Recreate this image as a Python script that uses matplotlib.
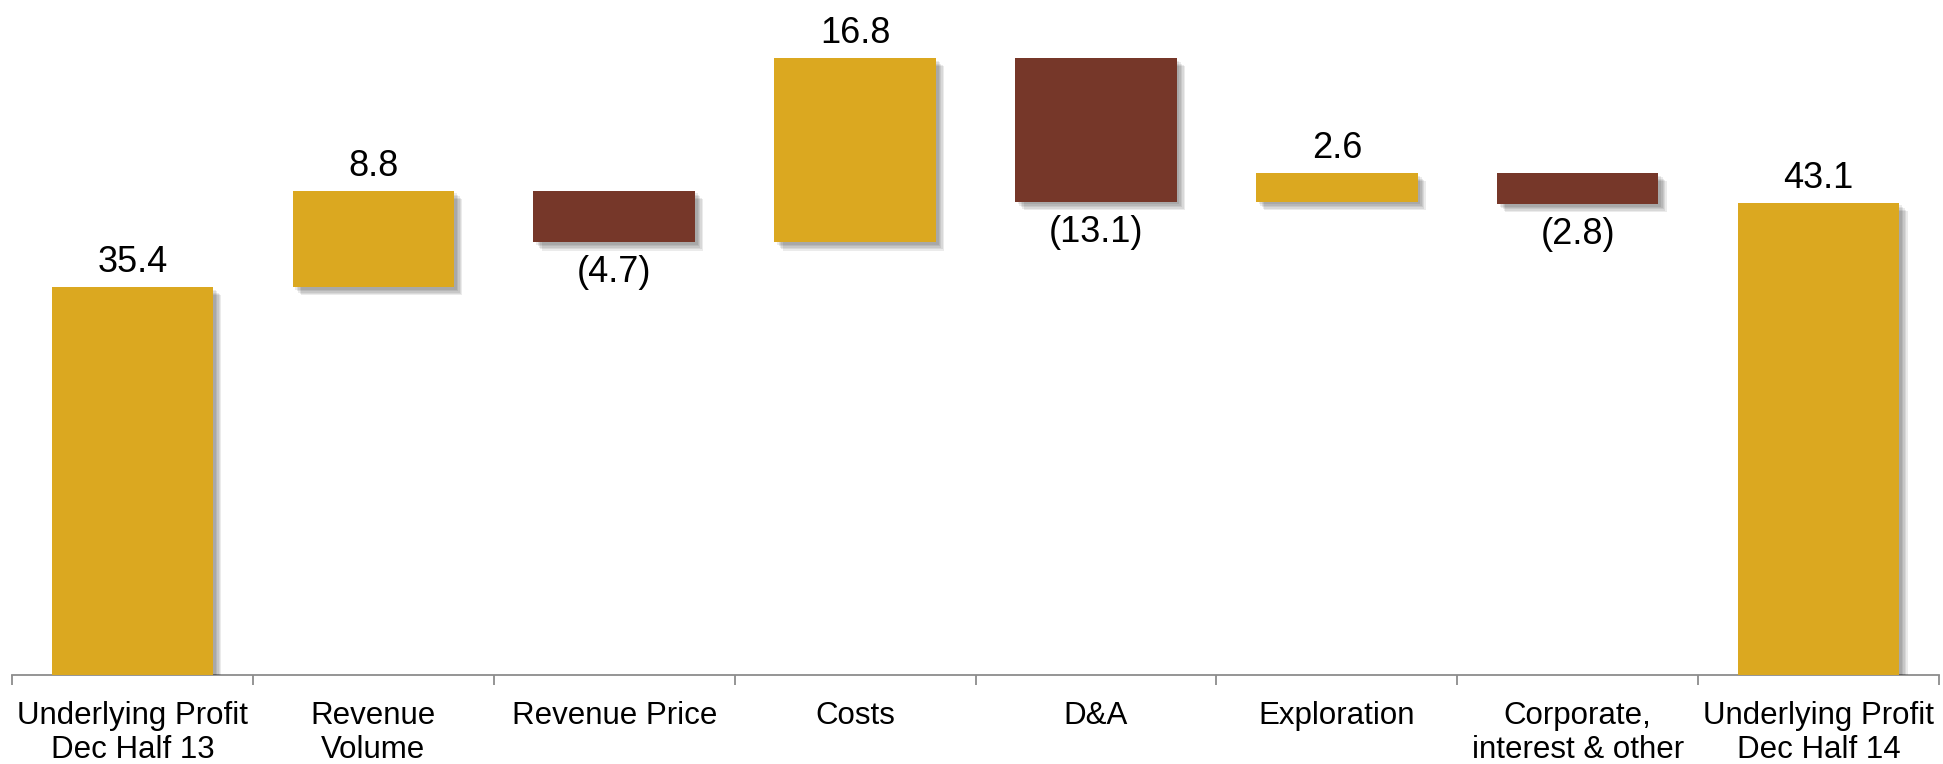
import matplotlib
matplotlib.use("Agg")
import matplotlib.pyplot as plt
import matplotlib.patheffects as pe
import numpy as np

plt.rcParams['font.family'] = ['Liberation Sans', 'DejaVu Sans']

# 損益ブリッジのデータ
categories = ["Underlying Profit\nDec Half 13", "Revenue\nVolume", "Revenue Price",
              "Costs", "D&A", "Exploration", "Corporate,\ninterest & other",
              "Underlying Profit\nDec Half 14"]
values = [35.4, 8.8, -4.7, 16.8, -13.1, 2.6, -2.8, 43.1]
is_total = [True, False, False, False, False, False, False, True]
labels = ["35.4", "8.8", "(4.7)", "16.8", "(13.1)", "2.6", "(2.8)", "43.1"]

gold = "#DBA820"
brown = "#763729"

fig = plt.figure(figsize=(19.43, 7.64), dpi=100)
ax = fig.add_axes([12/1943, 89/764, 1927/1943, 675/764])

# ぼかし風の影（少しずつずらして重ねる）
shadow = [pe.SimplePatchShadow(offset=(d, -d), shadow_rgbFace="black", alpha=0.08)
          for d in (2, 3, 4, 5, 6)] + [pe.Normal()]

run = 0.0
for i, v in enumerate(values):
    if is_total[i]:
        bottom, height = 0.0, v
        run = v
    else:
        bottom = run if v >= 0 else run + v
        height = abs(v)
        run += v
    color = gold if v >= 0 else brown
    b = ax.bar(i, height, bottom=bottom, width=0.67, color=color, zorder=3)
    for p in b.patches:
        p.set_path_effects(shadow)
    if v >= 0:
        ax.annotate(labels[i], (i, bottom + height), xytext=(0, 10.8),
                    textcoords="offset points", ha="center", va="baseline",
                    fontsize=26, color="black")
    else:
        ax.annotate(labels[i], (i, bottom), xytext=(0, -28.8),
                    textcoords="offset points", ha="center", va="baseline",
                    fontsize=26, color="black")

ax.set_xlim(-0.5, len(values) - 0.5)
ax.set_ylim(0, 61.6)

ax.set_xticks(np.arange(-0.5, len(values)), [""] * (len(values) + 1))
ax.set_xticks(np.arange(len(values)), categories, minor=True)
for t in ax.get_xticklabels(minor=True):
    t.set_linespacing(1.18)
ax.tick_params(axis="x", which="major", direction="out", length=7.5,
               width=1.3, color="#8c8c8c")
ax.tick_params(axis="x", which="minor", length=0, pad=18.5, labelsize=22.5)
ax.set_yticks([])

for s in ("top", "right", "left"):
    ax.spines[s].set_visible(False)
ax.spines["bottom"].set_color("#8c8c8c")
ax.spines["bottom"].set_linewidth(1.3)

plt.savefig("out.png", dpi=100)
